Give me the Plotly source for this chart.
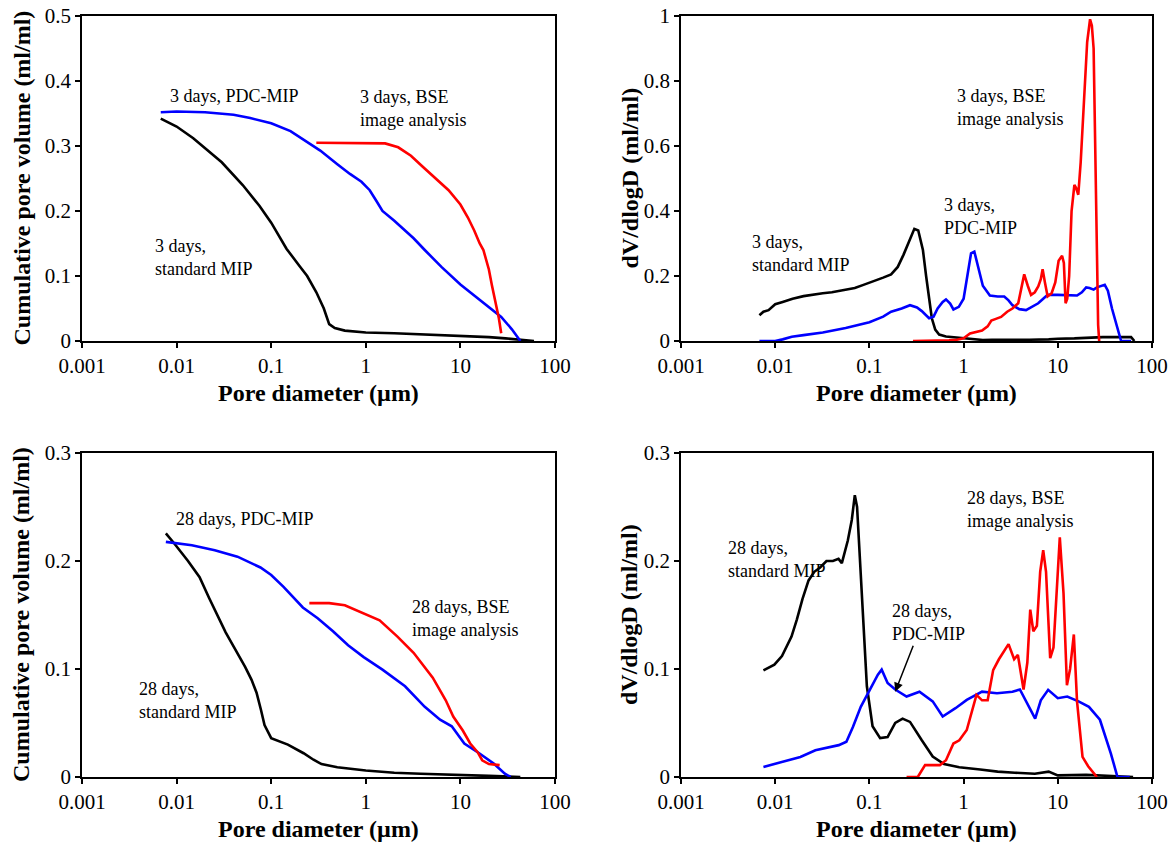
import plotly.graph_objects as go
import math

# ---------------- data ----------------
# Top-left: cumulative pore volume, 3 days
tl_black_d = [0.0068, 0.01, 0.015, 0.02, 0.03, 0.05, 0.075, 0.1, 0.145, 0.2, 0.24, 0.3, 0.36, 0.41, 0.47, 0.6, 1, 2, 3, 5, 10, 20, 30, 45, 60]
tl_black_v = [0.342, 0.33, 0.312, 0.297, 0.275, 0.24, 0.208, 0.182, 0.142, 0.115, 0.1, 0.075, 0.05, 0.026, 0.02, 0.016, 0.013, 0.012, 0.011, 0.01, 0.008, 0.006, 0.004, 0.002, 0.0]
tl_blue_d = [0.0068, 0.01, 0.02, 0.04, 0.06, 0.1, 0.16, 0.25, 0.33, 0.5, 0.68, 0.9, 1.1, 1.3, 1.5, 2.0, 2.5, 3.2, 4.2, 6.3, 10, 14, 20, 27, 35, 43]
tl_blue_v = [0.352, 0.353, 0.352, 0.348, 0.343, 0.335, 0.323, 0.305, 0.293, 0.272, 0.257, 0.245, 0.232, 0.215, 0.2, 0.185, 0.172, 0.158, 0.14, 0.114, 0.087, 0.07, 0.053, 0.037, 0.018, 0.0]
tl_red_d = [0.3, 0.5, 1.0, 1.6, 2.2, 3.0, 4.0, 5.5, 7.5, 10, 12, 14, 16, 17.5, 20, 21.5, 23.5, 25.5, 27]
tl_red_v = [0.305, 0.305, 0.305, 0.304, 0.298, 0.285, 0.268, 0.25, 0.232, 0.21, 0.19, 0.17, 0.15, 0.14, 0.11, 0.086, 0.06, 0.035, 0.012]

# Top-right: dV/dlogD, 3 days
tr_black_d = [0.0068, 0.0075, 0.0085, 0.01, 0.012, 0.0153, 0.02, 0.025, 0.032, 0.04, 0.056, 0.07, 0.085, 0.1, 0.12, 0.14, 0.17, 0.2, 0.23, 0.27, 0.3, 0.33, 0.37, 0.4, 0.43, 0.46, 0.5, 0.55, 0.65, 0.75, 1.0, 1.3, 1.6, 2, 3, 5, 8, 10, 15, 20, 30, 45, 60, 65]
tr_black_v = [0.079, 0.09, 0.095, 0.113, 0.12, 0.13, 0.138, 0.143, 0.147, 0.15, 0.158, 0.163, 0.172, 0.179, 0.188, 0.195, 0.205, 0.228, 0.265, 0.31, 0.345, 0.34, 0.28, 0.2, 0.13, 0.07, 0.035, 0.02, 0.014, 0.012, 0.01, 0.006, 0.003, 0.004, 0.003, 0.004, 0.005, 0.007, 0.008, 0.01, 0.012, 0.012, 0.012, 0.0]
tr_blue_d = [0.0068, 0.01, 0.012, 0.015, 0.02, 0.032, 0.056, 0.1, 0.14, 0.17, 0.22, 0.27, 0.32, 0.36, 0.43, 0.48, 0.53, 0.6, 0.65, 0.72, 0.78, 0.89, 1.0, 1.1, 1.2, 1.3, 1.45, 1.6, 1.9, 2.3, 2.7, 3.0, 3.3, 3.9, 4.6, 5.4, 6.2, 7.0, 7.8, 10, 12, 14.4, 16, 18, 20, 21.7, 24, 26, 29, 31.5, 34, 37.6, 42, 47, 55, 60]
tr_blue_v = [0.0, 0.0, 0.005, 0.013, 0.018, 0.026, 0.04, 0.058, 0.075, 0.09, 0.1, 0.11, 0.103, 0.092, 0.07, 0.075, 0.1, 0.12, 0.128, 0.115, 0.097, 0.105, 0.13, 0.2, 0.27, 0.275, 0.22, 0.17, 0.14, 0.137, 0.137, 0.125, 0.11, 0.098, 0.095, 0.105, 0.116, 0.13, 0.142, 0.142, 0.142, 0.142, 0.14, 0.15, 0.165, 0.163, 0.158, 0.165, 0.17, 0.173, 0.155, 0.1, 0.05, 0.0, 0.0, 0.0]
tr_red_d = [0.29, 0.5, 0.7, 0.85, 1.0, 1.17, 1.35, 1.57, 1.8, 1.97, 2.2, 2.5, 2.9, 3.3, 3.8, 4.1, 4.4, 4.8, 5.2, 5.7, 6.2, 6.6, 6.9, 7.3, 7.8, 8.6, 9.4, 10.2, 11.1, 11.6, 12.1, 12.6, 13.2, 14.0, 15.0, 15.7, 16.5, 17.5, 19, 20.5, 22, 23, 24, 25, 26, 26.8, 27.5]
tr_red_v = [0.0, 0.0, 0.002, 0.004, 0.008, 0.023, 0.027, 0.032, 0.045, 0.063, 0.068, 0.074, 0.09, 0.1, 0.116, 0.16, 0.205, 0.17, 0.142, 0.15, 0.168, 0.19, 0.221, 0.18, 0.137, 0.147, 0.18, 0.247, 0.262, 0.24, 0.116, 0.13, 0.2, 0.4, 0.48, 0.47, 0.45, 0.55, 0.75, 0.92, 0.99, 0.97, 0.9, 0.6, 0.25, 0.05, 0.0]

# Bottom-left: cumulative pore volume, 28 days
bl_black_d = [0.0077, 0.0095, 0.0132, 0.0175, 0.022, 0.0277, 0.033, 0.04, 0.053, 0.062, 0.07, 0.078, 0.085, 0.1, 0.12, 0.15, 0.22, 0.28, 0.34, 0.5, 1.0, 2.0, 3.8, 10, 20, 43]
bl_black_v = [0.2255, 0.216, 0.2, 0.185, 0.166, 0.148, 0.134, 0.121, 0.102, 0.09, 0.078, 0.062, 0.048, 0.036, 0.033, 0.03, 0.022, 0.016, 0.012, 0.009, 0.006, 0.004, 0.003, 0.0015, 0.001, 0.0]
bl_blue_d = [0.0077, 0.0145, 0.0253, 0.044, 0.077, 0.1, 0.135, 0.216, 0.31, 0.45, 0.65, 0.95, 1.5, 2.6, 4.2, 6.1, 8.1, 11.0, 15.8, 22.5, 29.5, 34]
bl_blue_v = [0.2177, 0.2146, 0.21, 0.204, 0.194, 0.187, 0.176, 0.157, 0.147, 0.135, 0.122, 0.111, 0.0994, 0.084, 0.065, 0.053, 0.047, 0.031, 0.022, 0.0124, 0.003, 0.0]
bl_red_d = [0.253, 0.41, 0.6, 0.95, 1.4, 2.16, 3.2, 5.1, 7.0, 8.4, 10.6, 12.7, 15.2, 17.0, 20, 26]
bl_red_v = [0.161, 0.161, 0.159, 0.151, 0.145, 0.13, 0.115, 0.092, 0.071, 0.056, 0.043, 0.031, 0.023, 0.0155, 0.012, 0.011]

# Bottom-right: dV/dlogD, 28 days
br_black_d = [0.0075, 0.0098, 0.0118, 0.0149, 0.017, 0.0195, 0.0226, 0.026, 0.03, 0.035, 0.041, 0.047, 0.051, 0.054, 0.059, 0.065, 0.07, 0.074, 0.079, 0.085, 0.094, 0.108, 0.13, 0.156, 0.188, 0.225, 0.27, 0.36, 0.47, 0.62, 0.9, 1.5, 2.3, 3.5, 5.7, 8, 10, 20, 40, 63]
br_black_v = [0.0988, 0.104, 0.112, 0.13, 0.146, 0.165, 0.182, 0.19, 0.194, 0.2, 0.2, 0.202, 0.198, 0.206, 0.219, 0.238, 0.261, 0.25, 0.206, 0.146, 0.084, 0.047, 0.036, 0.037, 0.05, 0.054, 0.051, 0.034, 0.019, 0.012, 0.009, 0.007, 0.005, 0.004, 0.003, 0.005, 0.0015, 0.002, 0.001, 0.0]
br_blue_d = [0.0075, 0.0118, 0.0185, 0.0267, 0.0473, 0.057, 0.067, 0.081, 0.098, 0.123, 0.135, 0.156, 0.188, 0.248, 0.34, 0.47, 0.6, 0.82, 1.08, 1.57, 2.26, 3.3, 3.96, 5.0, 5.75, 6.6, 7.9, 10, 12.6, 16.6, 21.4, 28, 36.6, 43, 58]
br_blue_v = [0.0093, 0.014, 0.0186, 0.0248, 0.0295, 0.0326, 0.0466, 0.065, 0.079, 0.0947, 0.0994, 0.087, 0.081, 0.0745, 0.079, 0.07, 0.056, 0.0637, 0.0714, 0.079, 0.0776, 0.079, 0.081, 0.065, 0.054, 0.071, 0.0807, 0.073, 0.0745, 0.07, 0.065, 0.053, 0.0217, 0.0, 0.0]
br_red_d = [0.248, 0.326, 0.39, 0.56, 0.65, 0.78, 0.9, 1.08, 1.37, 1.57, 1.8, 2.06, 2.37, 3.0, 3.44, 3.77, 4.33, 4.75, 5.1, 5.5, 6.0, 6.5, 7.0, 7.5, 8.3, 9.0, 10.5, 11.5, 12.5, 13.5, 14.8, 16.0, 18.3, 21, 26]
br_red_v = [0.0, 0.0, 0.011, 0.011, 0.0155, 0.031, 0.034, 0.0435, 0.076, 0.071, 0.071, 0.099, 0.109, 0.123, 0.109, 0.113, 0.081, 0.106, 0.155, 0.135, 0.14, 0.19, 0.21, 0.19, 0.11, 0.12, 0.222, 0.17, 0.085, 0.1, 0.132, 0.07, 0.0186, 0.01, 0.0]

x_tickvals = [0.001, 0.01, 0.1, 1, 10, 100]
x_ticktext = ["0.001", "0.01", "0.1", "1", "10", "100"]
y_ticks_cum3 = [0, 0.1, 0.2, 0.3, 0.4, 0.5]
y_text_cum3 = ["0", "0.1", "0.2", "0.3", "0.4", "0.5"]
y_ticks_dv3 = [0, 0.2, 0.4, 0.6, 0.8, 1.0]
y_text_dv3 = ["0", "0.2", "0.4", "0.6", "0.8", "1"]
y_ticks_28 = [0, 0.1, 0.2, 0.3]
y_text_28 = ["0", "0.1", "0.2", "0.3"]

x_title = "Pore diameter (µm)"
y_title_cum = "Cumulative pore volume (ml/ml)"
y_title_dv = "dV/dlogD (ml/ml)"

# ---------------- figure ----------------
FONT = "Times New Roman, Liberation Serif, DejaVu Serif, serif"
W, H = 1174, 845
LW = 2.6
BLACK, BLUE, RED = "#000000", "#0000FF", "#FF0000"

fig = go.Figure()

panels = [
    ("x", "y", [(tl_black_d, tl_black_v, BLACK), (tl_blue_d, tl_blue_v, BLUE), (tl_red_d, tl_red_v, RED)]),
    ("x2", "y2", [(tr_black_d, tr_black_v, BLACK), (tr_blue_d, tr_blue_v, BLUE), (tr_red_d, tr_red_v, RED)]),
    ("x3", "y3", [(bl_black_d, bl_black_v, BLACK), (bl_blue_d, bl_blue_v, BLUE), (bl_red_d, bl_red_v, RED)]),
    ("x4", "y4", [(br_black_d, br_black_v, BLACK), (br_blue_d, br_blue_v, BLUE), (br_red_d, br_red_v, RED)]),
]
for xa, ya, series in panels:
    for d, v, c in series:
        fig.add_trace(go.Scatter(x=d, y=v, mode="lines", xaxis=xa, yaxis=ya,
                                 line=dict(color=c, width=LW), showlegend=False,
                                 hoverinfo="skip"))

def xdom(l, r):
    return [l / W, r / W]

def ydom(t, b):
    return [1 - b / H, 1 - t / H]

tickfont = dict(family=FONT, size=21, color="black")
titlefont = dict(family=FONT, size=24, color="black", weight="bold")

def xaxis(dom, anchor):
    return dict(domain=dom, anchor=anchor, type="log", range=[-3, 2],
                tickvals=x_tickvals, ticktext=x_ticktext, ticks="outside",
                ticklen=5, tickwidth=1.5, tickcolor="black",
                showline=True, linecolor="black", linewidth=1.5, mirror=True,
                showgrid=False, zeroline=False, tickfont=tickfont, automargin=False)

def yaxis(dom, anchor, rng, tv, tt):
    return dict(domain=dom, anchor=anchor, range=rng, tickvals=tv, ticktext=tt,
                ticks="outside", ticklen=5, tickwidth=1.5, tickcolor="black",
                showline=True, linecolor="black", linewidth=1.5, mirror=True,
                showgrid=False, zeroline=False, tickfont=tickfont, automargin=False)

PX_L, PX_R = (82, 555), (681, 1152)
PY_T, PY_B = (16, 341), (453, 777)

fig.update_layout(
    width=W, height=H, margin=dict(l=0, r=0, t=0, b=0, autoexpand=False),
    paper_bgcolor="white", plot_bgcolor="white",
    font=dict(family=FONT, color="black"),
    xaxis=xaxis(xdom(*PX_L), "y"), yaxis=yaxis(ydom(*PY_T), "x", [0, 0.5], y_ticks_cum3, y_text_cum3),
    xaxis2=xaxis(xdom(*PX_R), "y2"), yaxis2=yaxis(ydom(*PY_T), "x2", [0, 1.0], y_ticks_dv3, y_text_dv3),
    xaxis3=xaxis(xdom(*PX_L), "y3"), yaxis3=yaxis(ydom(*PY_B), "x3", [0, 0.3], y_ticks_28, y_text_28),
    xaxis4=xaxis(xdom(*PX_R), "y4"), yaxis4=yaxis(ydom(*PY_B), "x4", [0, 0.3], y_ticks_28, y_text_28),
)

# axis titles (placed in paper pixels)
def paper_text(text, px, py, angle=0):
    fig.add_annotation(text=text, xref="paper", yref="paper", x=px / W, y=1 - py / H,
                       xanchor="center", yanchor="middle", showarrow=False,
                       textangle=angle, font=titlefont)

for (l, r) in (PX_L, PX_R):
    for py in (393, 829):
        paper_text(x_title, (l + r) / 2, py)
for (t, b) in (PY_T, PY_B):
    paper_text(y_title_cum, 21, (t + b) / 2, -90)
    paper_text(y_title_dv, 629, (t + b) / 2, -90)

afont = dict(family=FONT, size=18, color="black")

def note(text, xa, ya, d, v):
    fig.add_annotation(text=text, xref=xa, yref=ya, x=math.log10(d), y=v,
                       xanchor="left", yanchor="middle", align="left",
                       showarrow=False, font=afont)

note("3 days, PDC-MIP", "x", "y", 0.0082, 0.377)
note("3 days, BSE<br>image analysis", "x", "y", 0.83, 0.358)
note("3 days,<br>standard MIP", "x", "y", 0.0056, 0.129)

note("3 days, BSE<br>image analysis", "x2", "y2", 0.81, 0.717)
note("3 days,<br>PDC-MIP", "x2", "y2", 0.59, 0.382)
note("3 days,<br>standard MIP", "x2", "y2", 0.0054, 0.27)

note("28 days, PDC-MIP", "x3", "y3", 0.0093, 0.239)
note("28 days, BSE<br>image analysis", "x3", "y3", 2.93, 0.147)
note("28 days,<br>standard MIP", "x3", "y3", 0.0038, 0.071)

note("28 days,<br>standard MIP", "x4", "y4", 0.003, 0.201)
note("28 days, BSE<br>image analysis", "x4", "y4", 1.03, 0.248)
note("28 days,<br>PDC-MIP", "x4", "y4", 0.166, 0.143)

# arrow pointing to PDC-MIP curve (bottom-right)
fig.add_annotation(xref="x4", yref="y4", axref="x4", ayref="y4",
                   x=math.log10(0.188), y=0.079, ax=math.log10(0.296), ay=0.123,
                   text="", showarrow=True, arrowhead=2, arrowsize=1.2,
                   arrowwidth=1.5, arrowcolor="black")

fig.write_html("out.html")
